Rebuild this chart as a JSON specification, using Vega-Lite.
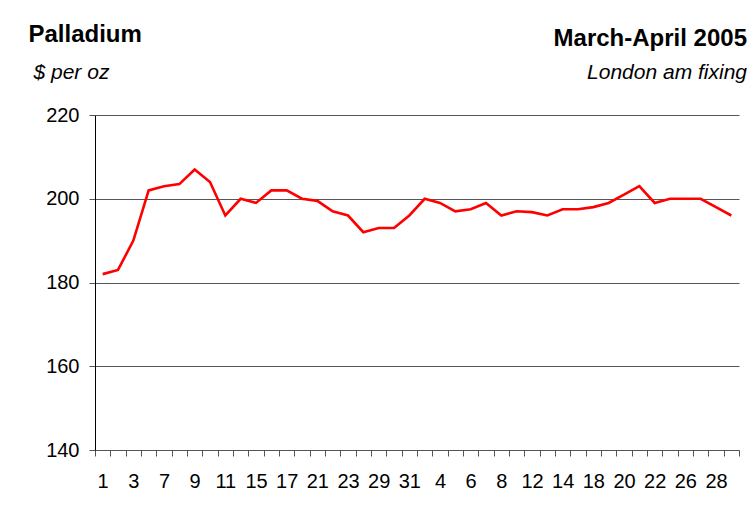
{
  "$schema": "https://vega.github.io/schema/vega-lite/v6.json",
  "width": 644,
  "height": 335,
  "autosize": {"type": "none"},
  "padding": {"left": 95, "top": 115, "right": 11, "bottom": 66},
  "background": "white",
  "config": {
    "view": {"stroke": null},
    "font": "Liberation Sans"
  },
  "title": {
    "text": "March-April 2005",
    "subtitle": "London am fixing",
    "anchor": "end",
    "frame": "group",
    "font": "Liberation Sans",
    "fontSize": 24,
    "fontWeight": "bold",
    "color": "black",
    "subtitleFont": "Liberation Sans",
    "subtitleFontSize": 21,
    "subtitleFontStyle": "italic",
    "subtitleColor": "black",
    "subtitlePadding": 11,
    "offset": 0,
    "dx": 8,
    "dy": 61
  },
  "data": {
    "values": [
      {"date": "2005-03-01", "price": 182},
      {"date": "2005-03-02", "price": 183},
      {"date": "2005-03-03", "price": 190},
      {"date": "2005-03-04", "price": 202},
      {"date": "2005-03-07", "price": 203},
      {"date": "2005-03-08", "price": 203.5},
      {"date": "2005-03-09", "price": 207},
      {"date": "2005-03-10", "price": 204},
      {"date": "2005-03-11", "price": 196},
      {"date": "2005-03-14", "price": 200},
      {"date": "2005-03-15", "price": 199},
      {"date": "2005-03-16", "price": 202},
      {"date": "2005-03-17", "price": 202},
      {"date": "2005-03-18", "price": 200},
      {"date": "2005-03-21", "price": 199.5},
      {"date": "2005-03-22", "price": 197},
      {"date": "2005-03-23", "price": 196},
      {"date": "2005-03-24", "price": 192},
      {"date": "2005-03-29", "price": 193},
      {"date": "2005-03-30", "price": 193},
      {"date": "2005-03-31", "price": 196},
      {"date": "2005-04-01", "price": 200},
      {"date": "2005-04-04", "price": 199},
      {"date": "2005-04-05", "price": 197},
      {"date": "2005-04-06", "price": 197.5},
      {"date": "2005-04-07", "price": 199},
      {"date": "2005-04-08", "price": 196},
      {"date": "2005-04-11", "price": 197},
      {"date": "2005-04-12", "price": 196.8},
      {"date": "2005-04-13", "price": 196},
      {"date": "2005-04-14", "price": 197.5},
      {"date": "2005-04-15", "price": 197.5},
      {"date": "2005-04-18", "price": 198},
      {"date": "2005-04-19", "price": 199},
      {"date": "2005-04-20", "price": 201},
      {"date": "2005-04-21", "price": 203},
      {"date": "2005-04-22", "price": 199},
      {"date": "2005-04-25", "price": 200},
      {"date": "2005-04-26", "price": 200},
      {"date": "2005-04-27", "price": 200},
      {"date": "2005-04-28", "price": 198},
      {"date": "2005-04-29", "price": 196}
    ]
  },
  "mark": {"type": "line", "color": "#FF0000", "strokeWidth": 2.6},
  "encoding": {
    "x": {
      "field": "date",
      "type": "ordinal",
      "sort": null,
      "scale": {"type": "band", "paddingInner": 0, "paddingOuter": 0},
      "axis": {
        "title": "$ per oz",
        "titleFont": "Liberation Sans",
        "titleFontSize": 21,
        "titleFontStyle": "italic",
        "titleFontWeight": "normal",
        "titleColor": "black",
        "titleAlign": "left",
        "titleBaseline": "alphabetic",
        "titleAnchor": null,
        "titleX": -62,
        "titleY": -372,
        "labelAngle": 0,
        "labelFont": "Liberation Sans",
        "labelFontSize": 20,
        "labelColor": "black",
        "labelPadding": 15,
        "labelOverlap": false,
        "labelExpr": "round(datum.index * 41) % 2 == 0 ? '' + parseInt(slice(datum.value, 8)) : ''",
        "tickBand": "extent",
        "tickSize": 6,
        "tickColor": "#555555",
        "domainColor": "#555555",
        "grid": false
      }
    },
    "y": {
      "field": "price",
      "type": "quantitative",
      "scale": {"domain": [140, 220], "zero": false, "nice": false},
      "axis": {
        "values": [140, 160, 180, 200, 220],
        "title": "Palladium",
        "titleFont": "Liberation Sans",
        "titleFontSize": 24,
        "titleFontWeight": "bold",
        "titleColor": "black",
        "titleAngle": 0,
        "titleAlign": "left",
        "titleBaseline": "alphabetic",
        "titleAnchor": null,
        "titleX": -67,
        "titleY": -74,
        "labelFont": "Liberation Sans",
        "labelFontSize": 20,
        "labelColor": "black",
        "labelPadding": 10,
        "tickSize": 6,
        "tickColor": "#555555",
        "domainColor": "black",
        "grid": true,
        "gridColor": "#555555",
        "gridWidth": 1
      }
    }
  }
}
